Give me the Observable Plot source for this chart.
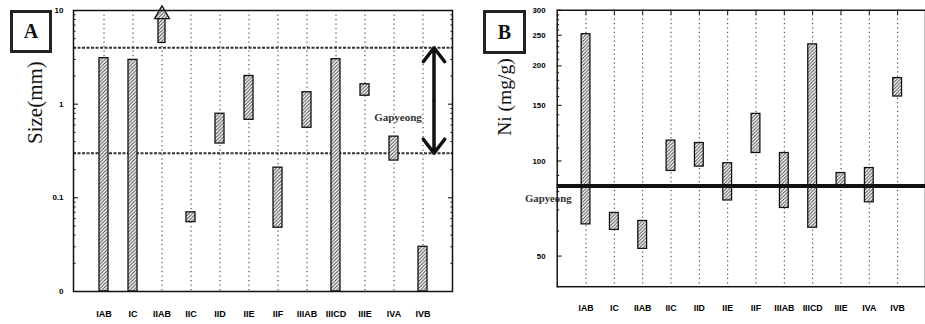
<!DOCTYPE html>
<html><head><meta charset="utf-8">
<script src="https://cdn.jsdelivr.net/npm/d3@7"></script>
<script src="https://cdn.jsdelivr.net/npm/@observablehq/plot@0.6"></script>
<style>
body{margin:0;width:925px;height:324px;overflow:hidden;background:#fff;position:relative;font-family:"Liberation Sans",Arial,sans-serif}
#a{position:absolute;left:0;top:0}
#b{position:absolute;left:460px;top:0}
.box{position:absolute;box-sizing:border-box;border:3px solid #222;display:flex;align-items:center;justify-content:center;font-family:"Liberation Serif","Times New Roman",serif;font-weight:bold;font-size:20px;color:#111;background:#fff}
</style></head>
<body>
<div id="a"></div><div id="b"></div>
<div class="box" style="left:10px;top:10px;width:42px;height:43px">A</div>
<div class="box" style="left:483px;top:10px;width:43px;height:44px">B</div>
<script>
const groups = ["IAB","IC","IIAB","IIC","IID","IIE","IIF","IIIAB","IIICD","IIIE","IVA","IVB"];

// Panel A : size (mm), log scale; 0.01 is the bottom of the axis (labelled "0")
const sizeLow  = [0.01, 0.01, null, 0.055, 0.38, 0.68, 0.048, 0.56, 0.01, 1.23, 0.25, 0.01];
const sizeHigh = [3.1,  2.97, null, 0.07,  0.79, 2.0,  0.21,  1.34, 3.02, 1.63, 0.45, 0.03];
const iiabArrow = {g: "IIAB", lo: 4.5, hi: 8.4, head: 9.1};
const gapSize = [0.3, 4];
const sizeTicks = [0.01, 0.1, 1, 10];
const sizeTickLabels = ["0", "0.1", "1", "10"];
const sizeMinor = [0.02,0.03,0.04,0.05,0.06,0.07,0.08,0.09,0.2,0.3,0.4,0.5,0.6,0.7,0.8,0.9,2,3,4,5,6,7,8,9];

// Panel B : Ni (mg/g), log scale
const niLow  = [63,  60.5, 52.7, 93,  96,  75,   106, 71,  61.5, 83,   74, 160];
const niHigh = [252, 68.5, 64.6, 116, 114, 98.4, 141, 106, 234,  91.6, 95, 183];
const gapNi = 83.3;
const niTicks = [50, 100, 150, 200, 250, 300];
const niMinor = [40,60,70,80,90,110,120,130,140,160,170,180,190,210,220,230,240,260,270,280,290];

function addHatch(svg, id){
  d3.select(svg).insert("defs", ":first-child").html(
    `<pattern id="${id}" patternUnits="userSpaceOnUse" width="3.5" height="3.5">
       <rect width="3.5" height="3.5" fill="#fff"/>
       <path d="M-1,1 l2,-2 M0,3.5 l3.5,-3.5 M2.5,4.5 l2,-2" stroke="#444" stroke-width="1"/>
     </pattern>`);
}
const serif = "'Liberation Serif','Times New Roman',serif";
const xOpts = {domain: groups, paddingInner: 0.69, paddingOuter: 0.845};

// ---------- Panel A ----------
const dataA = groups.map((g, i) => ({g, lo: sizeLow[i], hi: sizeHigh[i]})).filter(d => d.lo != null);
const gMid = Math.sqrt(gapSize[0] * gapSize[1]);
const svgA = Plot.plot({
  width: 460, height: 324,
  marginLeft: 73, marginRight: 8, marginTop: 10, marginBottom: 33,
  style: {fontFamily: "'Liberation Sans',Arial,sans-serif", fontSize: "8px", background: "#fff"},
  x: {...xOpts, label: null},
  y: {type: "log", domain: [0.01, 10], label: null},
  marks: [
    Plot.ruleX(groups, {x: d => d, stroke: "#222", strokeDasharray: "1.2,3.3"}),
    Plot.ruleY(gapSize, {y: d => d, stroke: "#333", strokeWidth: 2, strokeDasharray: "3,1.5"}),
    Plot.rectY(dataA, {x: "g", y1: "lo", y2: "hi", fill: "url(#hatchA)", stroke: "#111", strokeWidth: 1.3}),
    Plot.rectY([iiabArrow], {x: "g", y1: "lo", y2: "hi", insetLeft: 1, insetRight: 1, fill: "url(#hatchA)", stroke: "#111", strokeWidth: 1.3}),
    Plot.dot([iiabArrow], {x: "g", y: "head", symbol: "triangle", r: 5.5, fill: "url(#hatchA)", stroke: "#111", strokeWidth: 1.3}),
    Plot.arrow([{g: "IVB", a: gMid, b: gapSize[1]}, {g: "IVB", a: gMid, b: gapSize[0]}],
      {x1: "g", x2: "g", y1: "a", y2: "b", dx: 11, stroke: "#111", strokeWidth: 3.5, headLength: 13, headAngle: 75}),
    Plot.text(["Gapyeong"], {x: () => "IVA", y: () => 0.72, dx: 4, fontFamily: serif, fontSize: 11, fontWeight: "bold", fill: "#333"}),
    Plot.text(["Size(mm)"], {frameAnchor: "left", rotate: -90, dx: -38, dy: -7, fontFamily: serif, fontSize: 21, fill: "#111"}),
    Plot.axisY({ticks: sizeTicks, tickFormat: d => sizeTickLabels[sizeTicks.indexOf(d)], tickSize: 0, tickPadding: 10, fontWeight: "bold", label: null}),
    Plot.axisY({ticks: sizeTicks, tickSize: -5, tickFormat: () => "", label: null}),
    Plot.axisY({ticks: sizeMinor, tickSize: -2.5, tickFormat: () => "", label: null}),
    Plot.axisY({anchor: "right", ticks: sizeTicks, tickSize: -5, tickFormat: () => "", label: null}),
    Plot.axisY({anchor: "right", ticks: sizeMinor, tickSize: -2.5, tickFormat: () => "", label: null}),
    Plot.axisX({tickSize: 0, tickPadding: 19, fontWeight: "bold", fontSize: 9, label: null}),
    Plot.frame({stroke: "#111", strokeWidth: 1.5})
  ]
});
addHatch(svgA, "hatchA");
document.getElementById("a").append(svgA);

// ---------- Panel B ----------
const dataB = groups.map((g, i) => ({g, lo: niLow[i], hi: niHigh[i]}));
const svgB = Plot.plot({
  width: 476, height: 324,
  marginLeft: 99, marginRight: 0, marginTop: 10, marginBottom: 31,
  style: {fontFamily: "'Liberation Sans',Arial,sans-serif", fontSize: "8px", background: "#fff"},
  x: {...xOpts, label: null},
  y: {type: "log", domain: [40, 300], label: null},
  marks: [
    Plot.ruleX(groups, {x: d => d, stroke: "#222", strokeDasharray: "1.2,3.3"}),
    Plot.rectY(dataB, {x: "g", y1: "lo", y2: "hi", fill: "url(#hatchB)", stroke: "#111", strokeWidth: 1.3}),
    Plot.ruleY([gapNi], {y: d => d, stroke: "#111", strokeWidth: 4}),
    Plot.text(["Gapyeong"], {frameAnchor: "left", y: () => gapNi, dx: -33, dy: 13, fontFamily: serif, fontSize: 11, fontWeight: "bold", fill: "#333"}),
    Plot.text(["Ni (mg/g)"], {frameAnchor: "left", rotate: -90, dx: -54, dy: -13, fontFamily: serif, fontSize: 20, fill: "#111"}),
    Plot.axisY({ticks: niTicks, tickSize: 0, tickPadding: 12, fontWeight: "bold", label: null}),
    Plot.axisY({ticks: niTicks, tickSize: -5, tickFormat: () => "", label: null}),
    Plot.axisY({ticks: niMinor, tickSize: -2.5, tickFormat: () => "", label: null}),
    Plot.axisX({anchor: "top", tickSize: -4, tickFormat: () => "", label: null}),
    Plot.axisX({tickSize: 0, tickPadding: 18, fontWeight: "bold", fontSize: 9, label: null}),
    Plot.frame({stroke: "#111", strokeWidth: 1.5})
  ]
});
addHatch(svgB, "hatchB");
document.getElementById("b").append(svgB);
</script>
</body></html>
